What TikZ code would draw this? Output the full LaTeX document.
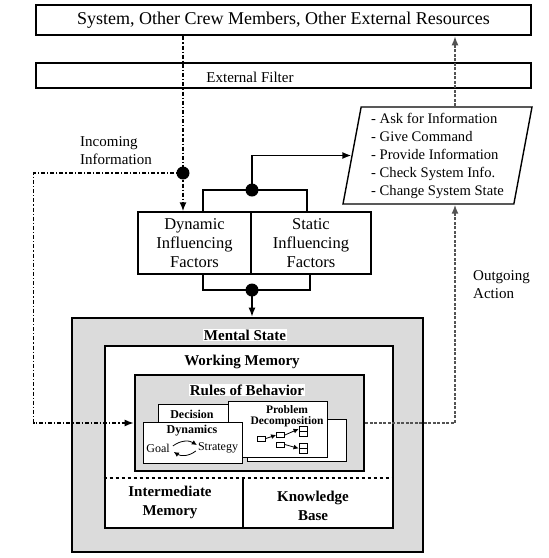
\documentclass[tikz,border=0pt]{standalone}
\usepackage{fontspec}
\setmainfont{Liberation Serif}
\usepackage{tikz}
\usetikzlibrary{shapes,arrows.meta,positioning}

\begin{document}
\begin{tikzpicture}[
    x=1pt, y=-1pt,
    box/.style={draw, rectangle, inner sep=0pt},
    heavy/.style={box, line width=2.6pt},
    card/.style={draw, fill=white, inner sep=0pt, line width=1pt},
    factor/.style={box, line width=1.4pt, minimum height=62pt, align=center,
                   font=\fontsize{16.5}{19}\selectfont},
    actions/.style={trapezium, trapezium left angle=78, trapezium right angle=102,
                    trapezium stretches body, draw, line width=1.4pt,
                    minimum width=189pt, minimum height=97pt, inner sep=0pt,
                    align=left, font=\fontsize{14.6}{18}\selectfont},
    title/.style={fill=white, inner sep=1pt, align=center,
                  font=\bfseries\fontsize{15}{19}\selectfont},
    lbl/.style={align=left, inner sep=0pt, font=\fontsize{15}{18}\selectfont},
    small/.style={inner sep=0pt, align=center, font=\bfseries\fontsize{12}{12}\selectfont},
    dot/.style={circle, fill, inner sep=0pt, minimum size=13pt},
    sq/.style={draw, fill=white, inner sep=0pt, minimum width=8pt,
               minimum height=5pt, line width=0.8pt},
    wire/.style={line width=1.5pt},
    arrow/.style={-{Latex[length=9pt,width=7pt]}, line width=1.5pt},
    inflow/.style={arrow, dash pattern=on 4pt off 2pt on 1.2pt off 2pt},
    outflow/.style={arrow, gray!65!black, dash pattern=on 3pt off 1.5pt},
    tiny/.style={-{Latex[length=5pt,width=5pt]}, line width=0.8pt}
]
\useasboundingbox (0,0) rectangle (549,558);

\node[heavy, minimum width=495pt, minimum height=30pt,
      font=\fontsize{18}{20}\selectfont] (system) at (283.5,20)
  {System, Other Crew Members, Other External Resources};
\node[box, line width=1.4pt, minimum width=495pt, minimum height=25pt] (filter) at (283.5,75.5) {};
\node[lbl] (filtertext) at (250,77) {External Filter};

\node[factor, minimum width=113pt] (dyn) at (194.5,243) {Dynamic\\Influencing\\Factors};
\node[factor, minimum width=120pt] (stat) at (311,243) {Static\\Influencing\\Factors};

\node[actions] (act) at (437.5,155.5) {- Ask for Information\\- Give Command\\- Provide Information\\- Check System Info.\\- Change System State};

\node[lbl, anchor=west] (incoming) at (80,151) {Incoming\\Information};
\node[lbl, anchor=west] (outgoing) at (473,285) {Outgoing\\Action};

% mental state, working memory, rules
\node[heavy, fill=gray!28, minimum width=351pt, minimum height=234pt] (mental) at (247.5,435) {};
\node[heavy, fill=white, minimum width=288pt, minimum height=182pt] (memory) at (249,437) {};
\node[heavy, fill=gray!28, minimum width=229pt, minimum height=96pt] (rules) at (249.5,423) {};
\node[title] (mentaltitle) at (245,335) {Mental State};
\node[title] (memorytitle) at (242,362) {Working Memory};
\node[title] (rulestitle) at (247,390) {Rules of Behavior};

\coordinate (split) at (243,478);
\draw[dashed, line width=1.2pt] (split -| memory.west) -- (split -| memory.east);
\draw[line width=1.2pt] (split) -- (split |- memory.south);
\node[title, fill=none] (intermediate) at (170,502) {Intermediate\\Memory};
\node[title, fill=none] (knowledge) at (313,506) {Knowledge\\Base};

% cards
\node[card, minimum width=71pt, minimum height=36pt] (decision) at (193.5,422) {};
\node[card, minimum width=99pt, minimum height=42pt] (problemback) at (296.5,440) {};
\node[card, minimum width=99pt, minimum height=56pt] (problem) at (277.5,429) {};
\node[card, minimum width=99pt, minimum height=41pt] (dynamics) at (192.5,442.5) {};
\node[small] (decisiontext) at (192,414) {Decision};
\node[small] (dynamicstext) at (192,431) {Dynamics};
\node[small, font=\fontsize{12}{12}\selectfont] (goal) at (158,448) {Goal};
\node[small, font=\fontsize{12}{12}\selectfont] (strategy) at (218,448) {Strategy};
\node[small, font=\bfseries\fontsize{11.5}{11}\selectfont] (problemtext) at (287,416) {Problem\\Decomposition};
\draw[tiny] ([xshift=3pt,yshift=2pt]goal.east) to[bend left=35] ([xshift=-1pt,yshift=3pt]strategy.west);
\draw[tiny] ([xshift=-2pt,yshift=-3pt]strategy.west) to[bend left=35] ([xshift=4pt,yshift=-4pt]goal.east);

\node[sq] (p1) at (261.5,438.5) {};
\node[sq] (p2) at (280.5,435) {};
\node[sq] (p3) at (280.5,444.5) {};
\node[sq] (p4a) at (303,429) {};
\node[sq] (p4b) at (303,434) {};
\node[sq] (p5a) at (303,445.5) {};
\node[sq] (p5b) at (303,450.5) {};
\draw[tiny] (p1.east) -- (p2.west);
\draw[tiny] (p2.east) -- (p4a.west);
\draw[tiny] (p3.east) -- (p5a.south west);

% information flow
\node[dot] (indot) at (183,173) {};
\node[dot] (updot) at (252,190) {};
\node[dot] (downdot) at (252,290) {};
\coordinate (inleft) at (33.5,173);
\coordinate (outright) at (455,423);

\draw[inflow] (system.south -| indot) -- (dyn.north -| indot);
\draw[inflow] (indot.center) -- (inleft) |- (rules.west);
\draw[wire] ([xshift=8.5pt]dyn.north) |- (updot.center) -| ([xshift=-4pt]stat.north);
\draw[arrow] (updot.center) |- (act.west);
\draw[wire] ([xshift=8.5pt]dyn.south) |- (downdot.center) -| ([xshift=-1pt]stat.south);
\draw[arrow] (downdot.center) -- (downdot |- mental.north);
\draw[outflow] (rules.east) -- (outright) -- (outright |- act.south);
\draw[outflow] (outright |- act.north) -- (outright |- system.south);
\end{tikzpicture}
\end{document}
